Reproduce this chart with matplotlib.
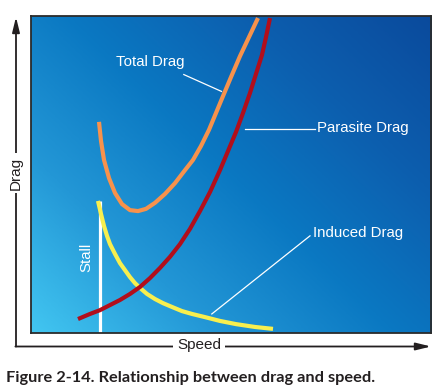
import matplotlib
matplotlib.use("Agg")
import matplotlib.pyplot as plt
import numpy as np
from matplotlib.colors import LinearSegmentedColormap

# speed / drag values (arbitrary 0-100 units)
total_speed = [17.0, 17.5, 18.25, 19.5, 21.0, 22.75, 24.75, 26.75, 28.75, 31.0, 33.5, 36.0,
               38.5, 40.5, 42.5, 44.5, 46.25, 48.0, 50.0, 52.25, 54.5, 56.75]
total_drag = [66.5, 60.5, 54.5, 48.8, 44.1, 40.6, 38.7, 38.4, 39.1, 41.0, 43.8, 47.2,
              51.3, 54.5, 58.9, 64.0, 69.3, 74.6, 80.6, 87.2, 93.2, 99.2]

parasite_speed = [11.75, 14.75, 17.25, 19.75, 22.25, 24.75, 27.25, 29.75, 32.25, 34.75, 37.25,
                  39.75, 42.25, 44.75, 47.25, 49.25, 51.25, 53.0, 54.75, 56.25, 57.75, 58.75, 59.75]
parasite_drag = [4.4, 6.0, 7.2, 8.8, 10.4, 12.3, 14.5, 17.3, 20.5, 24.0, 28.0,
                 32.8, 38.4, 44.4, 51.3, 57.3, 63.3, 69.3, 75.6, 81.6, 87.6, 93.2, 99.2]

induced_speed = [16.75, 17.5, 18.25, 19.0, 19.75, 21.0, 22.25, 23.5, 24.75, 26.0, 27.25,
                 29.0, 31.0, 33.0, 35.25, 37.75, 40.25, 43.5, 47.25, 51.25, 56.0, 60.5]
induced_drag = [41.6, 37.5, 33.7, 30.6, 28.0, 24.9, 22.0, 19.8, 17.6, 15.7, 14.2,
                12.3, 10.7, 9.4, 8.2, 6.9, 6.0, 5.0, 3.8, 2.8, 1.9, 1.3]

stall_speed = 17.25
stall_drag = [0.0, 41.6]

W, H = 444, 392
fig = plt.figure(figsize=(W / 100, H / 100), dpi=100)
fig.patch.set_facecolor("white")
ax = fig.add_axes([31 / W, 1 - 333 / H, 400 / W, 317.5 / H])
ax.set_xlim(0, 100)
ax.set_ylim(0, 100)

# diagonal blue gradient background
gx, gy = np.meshgrid(np.linspace(0, 1, 300), np.linspace(0, 1, 300))
grad = (gx * 0.55 + gy * 0.45)
cmap = LinearSegmentedColormap.from_list(
    "bg", ["#42C6F1", "#2397D6", "#0A78C2", "#0D5EAE", "#0A4A9C"])
ax.imshow(grad, extent=(0, 100, 0, 100), origin="lower", cmap=cmap,
          aspect="auto", zorder=0)

for side in ax.spines.values():
    side.set_color("#2B2B2B")
    side.set_linewidth(1.3)
ax.set_xticks([])
ax.set_yticks([])

lw = 3.0
ax.plot([stall_speed, stall_speed], stall_drag, color="white", lw=2.3,
        solid_capstyle="butt", zorder=2)
ax.plot(induced_speed, induced_drag, color="#F8EF4E", lw=lw,
        solid_capstyle="butt", solid_joinstyle="round", zorder=3)
ax.plot(parasite_speed, parasite_drag, color="#B20E1B", lw=lw,
        solid_capstyle="butt", solid_joinstyle="round", zorder=4)
ax.plot(total_speed, total_drag, color="#F7924C", lw=lw,
        solid_capstyle="butt", solid_joinstyle="round", zorder=4)

# leader lines and labels
ax.plot([38.2, 47.6], [81.4, 76.1], color="white", lw=0.9, zorder=5)
ax.plot([53.5, 71.0], [64.4, 64.4], color="white", lw=0.9, zorder=5)
ax.plot([69.75, 45.2], [30.6, 6.0], color="white", lw=0.9, zorder=5)

lab = dict(color="white", fontsize=10.8, family="Liberation Sans", zorder=6)
ax.text(29.75, 85.5, "Total Drag", ha="center", va="center", **lab)
ax.text(71.6, 64.7, "Parasite Drag", ha="left", va="center", **lab)
ax.text(70.6, 31.5, "Induced Drag", ha="left", va="center", **lab)
ax.text(13.75, 23.7, "Stall", ha="center", va="center", rotation=90, **lab)

# outer axis arrows (figure pixels, origin bottom-left)
arrow = dict(arrowstyle="-|>,head_length=0.9,head_width=0.22",
             color="#231F20", lw=1.3, shrinkA=0, shrinkB=0)
ax.annotate("", xy=(16, H - 17), xytext=(16, H - 346.5),
            xycoords="figure pixels", textcoords="figure pixels",
            arrowprops=arrow, annotation_clip=False)
ax.annotate("", xy=(431, H - 346.5), xytext=(15.4, H - 346.5),
            xycoords="figure pixels", textcoords="figure pixels",
            arrowprops=arrow, annotation_clip=False)

axl = dict(color="#231F20", fontsize=11, family="Liberation Sans",
           bbox=dict(boxstyle="square,pad=0.25", fc="white", ec="none"))
fig.text(16 / W, 1 - 173 / H, "Drag", rotation=90, ha="center", va="center", **axl)
fig.text(199 / W, 1 - 345 / H, "Speed", ha="center", va="center", **axl)

fig.text(6 / W, 1 - 378 / H, "Figure 2-14. Relationship between drag and speed.",
         ha="left", va="center", fontsize=11.8, fontweight="bold",
         family="Lato", color="#231F20")

fig.savefig("out.png", dpi=100, facecolor="white")
